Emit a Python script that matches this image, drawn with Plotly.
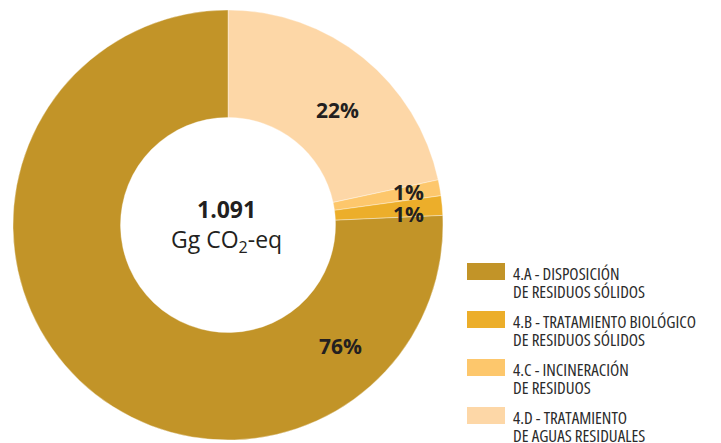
import plotly.graph_objects as go

W, H = 721, 443
OFF = 8  # page body margin in the browser

categories = ["4.A - DISPOSICIÓN|DE RESIDUOS SÓLIDOS",
              "4.B - TRATAMIENTO BIOLÓGICO|DE RESIDUOS SÓLIDOS",
              "4.C - INCINERACIÓN|DE RESIDUOS",
              "4.D - TRATAMIENTO|DE AGUAS RESIDUALES"]
values_gg = [826, 16, 13, 236]
colors = ["#C29428", "#ECAE2A", "#FDC76C", "#FDD7A7"]
total_label = "1.091"
unit_label = "Gg CO<sub>2</sub>-eq"

# label positions (screen pixels) for the percentage texts
label_px = [(340, 346), (408, 214), (408, 192), (337, 110)]

def px(x):
    return (x - OFF) / W

def py(y):
    return 1 - (y - OFF) / H

total = sum(values_gg)
pct_text = [f"{round(v / total * 100)}%" for v in values_gg]

fig = go.Figure()
fig.add_trace(go.Pie(
    labels=[c.replace("|", " ") for c in categories][::-1],
    values=values_gg[::-1],
    marker=dict(colors=colors[::-1], line=dict(color="rgba(255,255,255,0.6)", width=0.6)),
    hole=0.5,
    sort=False,
    direction="clockwise",
    rotation=0,
    textinfo="none",
    hoverinfo="label+percent",
    showlegend=False,
    domain=dict(x=[px(13), px(443)], y=[py(440), py(10)]),
))

annotations = []
txtcol = "#231F20"
for t, (x, y) in zip(pct_text, label_px):
    annotations.append(dict(x=px(x), y=py(y), xref="paper", yref="paper",
                            text=f"<b>{t}</b>", showarrow=False,
                            xanchor="center", yanchor="middle",
                            font=dict(family="Open Sans", size=21, color=txtcol)))

annotations.append(dict(x=px(227), y=py(209), xref="paper", yref="paper",
                        text=f"<b>{total_label}</b>", showarrow=False,
                        xanchor="center", yanchor="middle",
                        font=dict(family="Open Sans", size=23, color=txtcol)))
annotations.append(dict(x=px(227), y=py(240), xref="paper", yref="paper",
                        text=unit_label, showarrow=False,
                        xanchor="center", yanchor="middle",
                        font=dict(family="Open Sans", size=23, color=txtcol)))

shapes = []
leg_top = [263, 311, 359, 407]
for cat, col, top in zip(categories, colors, leg_top):
    shapes.append(dict(type="rect", xref="paper", yref="paper",
                       x0=px(467), x1=px(505), y0=py(top + 17), y1=py(top),
                       fillcolor=col, line=dict(width=0)))
    l1, l2 = cat.split("|")
    for i, line in enumerate([l1, l2]):
        annotations.append(dict(x=px(511), y=py(top + 10 + 18 * i), xref="paper", yref="paper",
                                text=f'<span style="font-stretch:77%">{line}</span>',
                                showarrow=False, xanchor="left", yanchor="middle",
                                font=dict(family="Open Sans", size=17, weight=500,
                                          color="#2B2B2B")))

fig.update_layout(
    width=W, height=H,
    margin=dict(l=0, r=0, t=0, b=0),
    paper_bgcolor="white", plot_bgcolor="white",
    annotations=annotations, shapes=shapes,
)
fig.write_html("out.html")
